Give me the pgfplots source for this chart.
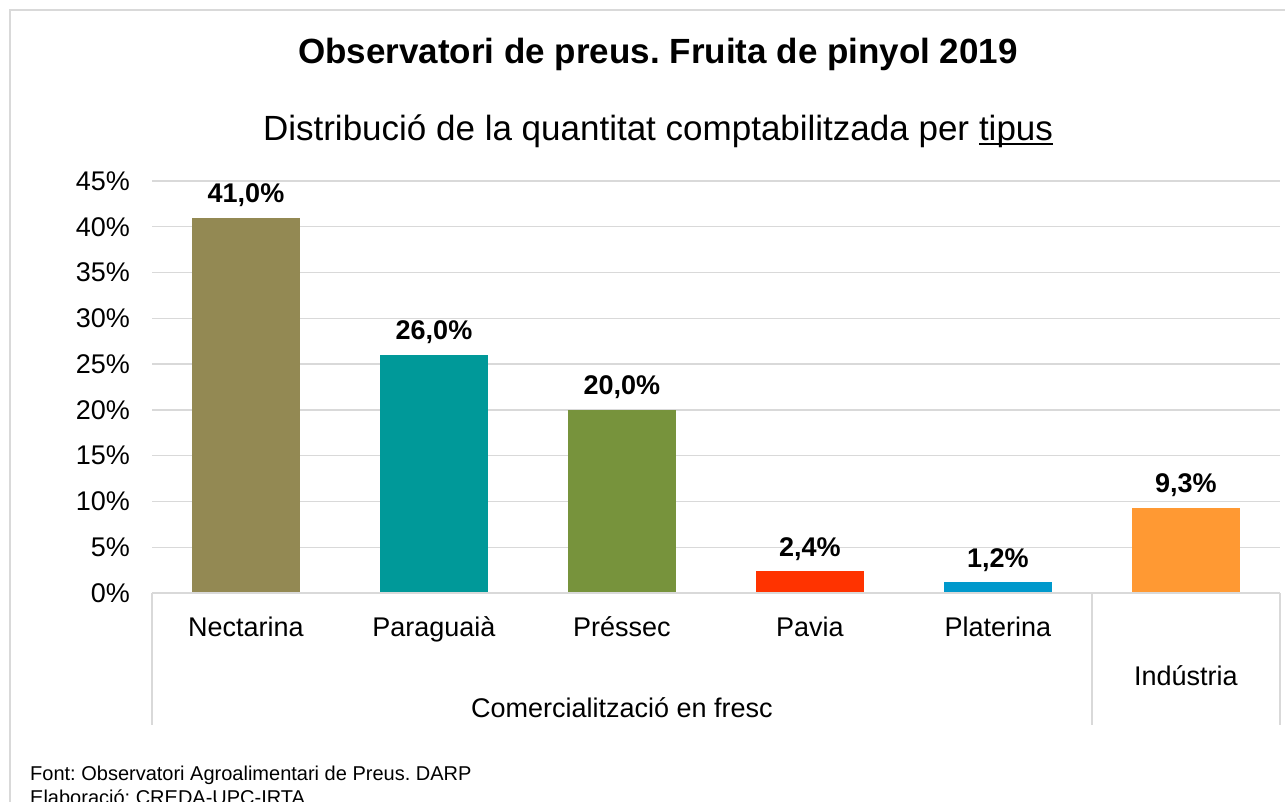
\documentclass[border=0pt]{standalone}
\usepackage{pgfplots}
\pgfplotsset{compat=1.18}
\usepackage{fontspec}
\setmainfont{Liberation Sans}
\frenchspacing

\definecolor{gridgray}{HTML}{D9D9D9}
\definecolor{cNect}{HTML}{938953}
\definecolor{cPara}{HTML}{009999}
\definecolor{cPres}{HTML}{77933C}
\definecolor{cPavi}{HTML}{FF3300}
\definecolor{cPlat}{HTML}{0099CC}
\definecolor{cIndu}{HTML}{FF9933}

\newcommand\ul[1]{\setbox0\hbox{#1}\rlap{\rule[-5pt]{\wd0}{1.6pt}}#1}

\begin{document}
\begin{tikzpicture}
  \useasboundingbox (0,0) rectangle (1285pt,-801pt);
  % outer frame
  \draw[gridgray, line width=1.3pt] (10pt,-820pt) -- (10pt,-10pt) -- (1300pt,-10pt);

  \node[anchor=base, font=\fontsize{35}{40}\selectfont\bfseries] at (658pt,-63pt)
    {Observatori de preus. Fruita de pinyol 2019};
  \node[anchor=base, font=\fontsize{35}{40}\selectfont] at (658pt,-140pt)
    {Distribució de la quantitat comptabilitzada per \ul{tipus}};

  \begin{axis}[
    at={(152pt,-593pt)}, anchor=south west,
    scale only axis,
    width=1128pt, height=412pt,
    ybar, bar width=108pt, bar shift=0pt,
    xmin=-0.5, xmax=5.5,
    ymin=0, ymax=45,
    ytick={0,5,...,45},
    yticklabel={\pgfmathparse{int(\tick)}\pgfmathresult\%},
    xtick={0,1,2,3,4},
    xticklabels={Nectarina, Paraguaià, Préssec, Pavia, Platerina},
    axis line style={draw=none},
    major tick length=0pt,
    ymajorgrids,
    grid style={gridgray, line width=1.3pt},
    tick label style={font=\fontsize{27}{30}\selectfont},
    yticklabel style={inner sep=0pt, xshift=-22pt},
    xticklabel style={anchor=base, inner sep=0pt, yshift=-43pt},
    clip=false,
    nodes near coords={\pgfmathprintnumber[fixed,fixed zerofill,precision=1,use comma,assume math mode=true]{\pgfplotspointmeta}\%},
    nodes near coords style={anchor=base, inner sep=0pt, yshift=15pt, font=\fontsize{27}{30}\selectfont\bfseries, text=black},
  ]
    \addplot[fill=cNect, draw=none, bar shift=0pt] coordinates {(0,41.0)};
    \addplot[fill=cPara, draw=none, bar shift=0pt] coordinates {(1,26.0)};
    \addplot[fill=cPres, draw=none, bar shift=0pt] coordinates {(2,20.0)};
    \addplot[fill=cPavi, draw=none, bar shift=0pt] coordinates {(3,2.4)};
    \addplot[fill=cPlat, draw=none, bar shift=0pt] coordinates {(4,1.2)};
    \addplot[fill=cIndu, draw=none, bar shift=0pt] coordinates {(5,9.3)};

    % category group frame
    \draw[gridgray, line width=1.3pt] (axis cs:-0.5,0) -- (axis cs:5.5,0);
    \draw[gridgray, line width=1.3pt] (axis cs:-0.5,0) -- ++(0pt,-132pt);
    \draw[gridgray, line width=1.3pt] (axis cs:4.5,0) -- ++(0pt,-132pt);
    \draw[gridgray, line width=1.3pt] (axis cs:5.5,0) -- ++(0pt,-132pt);
    \node[anchor=base, inner sep=0pt, font=\fontsize{27}{30}\selectfont]
      at ([yshift=-124pt]axis cs:2,0) {Comercialització en fresc};
    \node[anchor=base, inner sep=0pt, font=\fontsize{27}{30}\selectfont]
      at ([yshift=-92pt]axis cs:5,0) {Indústria};
  \end{axis}

  \node[anchor=base west, inner sep=0pt, font=\fontsize{20}{24}\selectfont] at (30pt,-780pt)
    {Font: Observatori Agroalimentari de Preus. DARP};
  \node[anchor=base west, inner sep=0pt, font=\fontsize{20}{24}\selectfont] at (30pt,-804pt)
    {Elaboració: CREDA-UPC-IRTA};
\end{tikzpicture}
\end{document}
